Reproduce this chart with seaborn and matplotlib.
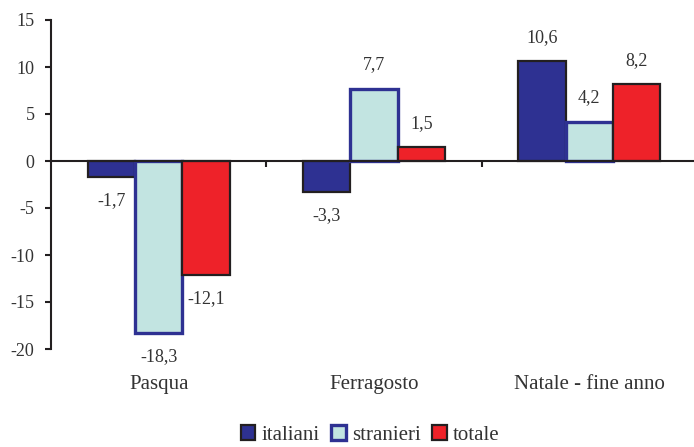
import matplotlib
matplotlib.use('Agg')
import matplotlib.pyplot as plt
import seaborn as sns
import pandas as pd
from matplotlib.patches import Patch
from matplotlib.transforms import blended_transform_factory

# ---- data ----
categories = ["Pasqua", "Ferragosto", "Natale - fine anno"]
series = ["italiani", "stranieri", "totale"]
italiani = [-1.7, -3.3, 10.6]
stranieri = [-18.3, 7.7, 4.2]
totale = [-12.1, 1.5, 8.2]
yticks = [-20, -15, -10, -5, 0, 5, 10, 15]

values = [italiani, stranieri, totale]
df = pd.DataFrame({
    "categoria": categories * 3,
    "serie": [s for s in series for _ in categories],
    "valore": italiani + stranieri + totale,
})

sns.set_theme(style="ticks")
plt.rcParams['font.family'] = ['Liberation Serif', 'DejaVu Serif']
plt.rcParams['axes.unicode_minus'] = False

fills = ["#2E3192", "#C2E4E1", "#EE2229"]
edges = ["#231F20", "#2E3192", "#231F20"]
lws = [1.6, 2.4, 1.6]
txt = "#333333"
fs = 13
fs_words = 15

fig = plt.figure(figsize=(6.94, 4.47), dpi=100)
ax = fig.add_axes([51/694, 1-349/447, 646/694, 329/447])
sns.barplot(data=df, x="categoria", y="valore", hue="serie", order=categories,
            hue_order=series, palette=fills, width=0.66, gap=0, saturation=1,
            legend=False, ax=ax, errorbar=None)

for i, cont in enumerate(ax.containers):
    for p in cont:
        p.set_edgecolor(edges[i])
        p.set_linewidth(lws[i])
    labels = [f"{v:.1f}".replace('.', ',') for v in values[i]]
    ax.bar_label(cont, labels=labels, padding=11, fontsize=fs, color=txt)

ax.set_xlim(-0.5, 2.5)
ax.set_ylim(-20, 15)
ax.set_yticks(yticks)
ax.set_xlabel("")
ax.set_ylabel("")

for s in ["top", "right"]:
    ax.spines[s].set_visible(False)
ax.spines['bottom'].set_position(('data', 0))
for s in ["bottom", "left"]:
    ax.spines[s].set_linewidth(1.5)
    ax.spines[s].set_color("#231F20")

ax.set_xticks([0.5, 1.5])
ax.set_xticklabels([])
ax.tick_params(axis='x', bottom=True, direction='out', length=4, width=1.5, color="#231F20")
ax.tick_params(axis='y', left=True, direction='out', length=4.3, width=1.5,
               color="#231F20", pad=7.5, labelsize=fs, labelcolor=txt)

trans = blended_transform_factory(ax.transData, ax.transAxes)
for i, c in enumerate(categories):
    ax.annotate(c, xy=(i, 0), xycoords=trans, xytext=(0, -26),
                textcoords='offset pixels', ha='center', va='top',
                fontsize=fs_words, color=txt)

handles = [Patch(facecolor=fills[i], edgecolor=edges[i], linewidth=lws[i]) for i in range(3)]
fig.legend(handles, series, loc='center', bbox_to_anchor=(370/694, 12/447), ncol=3,
           frameon=False, fontsize=fs_words, handlelength=0.7, handleheight=0.7,
           handletextpad=0.3, columnspacing=0.55, borderaxespad=0, borderpad=0,
           labelcolor=txt)

fig.savefig('out.png', dpi=100)
